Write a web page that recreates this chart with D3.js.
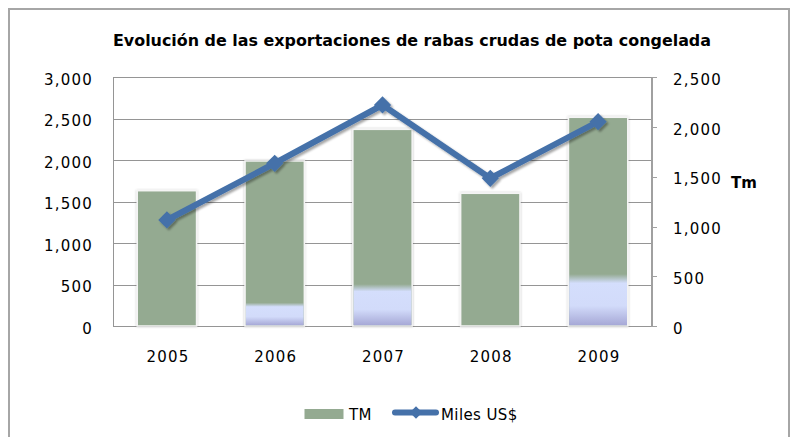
<!DOCTYPE html>
<html><head><meta charset="utf-8">
<script src="https://cdn.jsdelivr.net/npm/d3@7/dist/d3.min.js"></script>
<style>
html,body{margin:0;padding:0;background:#fff;}
svg{display:block;}
text{font-family:"DejaVu Sans",sans-serif;fill:#000;}
</style></head><body>
<svg id="c" width="798" height="437"></svg>
<script>
const years = ["2005","2006","2007","2008","2009"];
const tm = [1360, 1659, 1977, 1334, 2098];          // bars, right axis (Tm)
const milesUS = [1279, 1963, 2666, 1782, 2465];     // line, left axis
const tmLightBase = [0, 194, 381, 0, 482];          // light-blue bottom shading of bars
const leftTicks = [0, 500, 1000, 1500, 2000, 2500, 3000];
const rightTicks = [0, 500, 1000, 1500, 2000, 2500];
const title = "Evolución de las exportaciones de rabas crudas de pota congelada";

const svg = d3.select("#c");
const L = 113, R = 652, T = 77.3, B = 326;

// frame
svg.append("rect").attr("x",9).attr("y",9).attr("width",780).attr("height",450)
  .attr("fill","#fff").attr("stroke","#a6a6a6").attr("stroke-width",2);

const x = d3.scaleBand().domain(years).range([L,R]).paddingInner(0.45).paddingOuter(0.225);
const yL = d3.scaleLinear().domain([0,3000]).range([B,T]);
const yR = d3.scaleLinear().domain([0,2500]).range([B,T]);

// defs
const defs = svg.append("defs");
const g1 = defs.append("linearGradient").attr("id","lb").attr("x1",0).attr("y1",0).attr("x2",0).attr("y2",1);
g1.append("stop").attr("offset","0").attr("stop-color","#d4defc").attr("stop-opacity",0);
g1.append("stop").attr("offset","0.18").attr("stop-color","#d4defc").attr("stop-opacity",1);
g1.append("stop").attr("offset","0.62").attr("stop-color","#d2dbfa").attr("stop-opacity",1);
g1.append("stop").attr("offset","1").attr("stop-color","#a6a8d6").attr("stop-opacity",1);
const f = defs.append("filter").attr("id","sh").attr("x","-50%").attr("y","-50%").attr("width","200%").attr("height","200%");
f.append("feDropShadow").attr("dx",2).attr("dy",2).attr("stdDeviation",1.2).attr("flood-color","#000").attr("flood-opacity",0.35);
const fb = defs.append("filter").attr("id","bs").attr("x","-20%").attr("y","-20%").attr("width","140%").attr("height","140%");
fb.append("feDropShadow").attr("dx",0).attr("dy",0).attr("stdDeviation",1).attr("flood-color","#000").attr("flood-opacity",0.25);

// gridlines
svg.append("g").selectAll("line").data(leftTicks).join("line")
  .attr("x1",L).attr("x2",R).attr("y1",d=>Math.round(yL(d))+0.5).attr("y2",d=>Math.round(yL(d))+0.5)
  .attr("stroke","#959595").attr("stroke-width",1);
// left axis line
svg.append("line").attr("x1",L+0.5).attr("x2",L+0.5).attr("y1",T).attr("y2",B)
  .attr("stroke","#959595").attr("stroke-width",1);

// bars
const bars = svg.append("g");
bars.selectAll("rect.b").data(years).join("rect").attr("class","b")
  .attr("x",d=>x(d)).attr("width",x.bandwidth())
  .attr("y",(d,i)=>yR(tm[i])).attr("height",(d,i)=>B-yR(tm[i]))
  .attr("fill","#94aa91").attr("stroke","#f4f4f4").attr("stroke-width",1.5).attr("filter","url(#bs)");
bars.selectAll("rect.l").data(years.filter((d,i)=>tmLightBase[i]>0)).join("rect").attr("class","l")
  .attr("x",d=>x(d)+0.75).attr("width",x.bandwidth()-1.5)
  .attr("y",d=>yR(tmLightBase[years.indexOf(d)])-4)
  .attr("height",d=>B-yR(tmLightBase[years.indexOf(d)])+4-0.75)
  .attr("fill","url(#lb)");

// right axis
svg.append("line").attr("x1",R).attr("x2",R).attr("y1",T).attr("y2",B+1)
  .attr("stroke","#a0a0a0").attr("stroke-width",2);
svg.append("g").selectAll("line").data(rightTicks).join("line")
  .attr("x1",R).attr("x2",R+5).attr("y1",d=>Math.round(yR(d))+0.5).attr("y2",d=>Math.round(yR(d))+0.5)
  .attr("stroke","#a0a0a0").attr("stroke-width",1);

// line
const line = d3.line().x((d,i)=>x(years[i])+x.bandwidth()/2).y(d=>yL(d));
const lg = svg.append("g").attr("filter","url(#sh)");
lg.append("path").datum(milesUS).attr("d",line).attr("fill","none")
  .attr("stroke","#4571a9").attr("stroke-width",6).attr("stroke-linejoin","round");
const diamond = d3.symbol().type(d3.symbolDiamond2).size(190);
lg.selectAll("path.m").data(milesUS).join("path").attr("class","m")
  .attr("transform",(d,i)=>`translate(${x(years[i])+x.bandwidth()/2},${yL(d)})`)
  .attr("d",diamond).attr("fill","#4571a9");

// tick labels
svg.append("g").selectAll("text").data(leftTicks).join("text")
  .attr("x",93).attr("y",d=>yL(d)+7.5).attr("text-anchor","end")
  .style("font-size","15px").style("letter-spacing","1.2px")
  .text(d=>d3.format(",")(d));
svg.append("g").selectAll("text").data(rightTicks).join("text")
  .attr("x",673).attr("y",d=>yR(d)+7.5).attr("text-anchor","start")
  .style("font-size","15px").style("letter-spacing","1.2px")
  .text(d=>d3.format(",")(d));
svg.append("g").selectAll("text").data(years).join("text")
  .attr("x",d=>x(d)+x.bandwidth()/2+1).attr("y",362).attr("text-anchor","middle")
  .style("font-size","15px").style("letter-spacing","1.2px")
  .text(d=>d);

// axis title
svg.append("text").attr("x",731).attr("y",188).style("font-size","15px").style("font-weight","bold").text("Tm");

// title
svg.append("text").attr("x",113).attr("y",46).style("font-size","15px").style("font-weight","bold")
  .attr("textLength",598).attr("lengthAdjust","spacingAndGlyphs").text(title);

// legend
svg.append("rect").attr("x",304.5).attr("y",409).attr("width",39).attr("height",10).attr("fill","#94aa91");
svg.append("text").attr("x",349).attr("y",419.5).style("font-size","15px").style("letter-spacing","0.3px").text("TM");
svg.append("line").attr("x1",395).attr("x2",436).attr("y1",412.5).attr("y2",412.5)
  .attr("stroke","#4571a9").attr("stroke-width",6).attr("stroke-linecap","round");
svg.append("path").attr("transform","translate(416,412.5)").attr("d",d3.symbol().type(d3.symbolDiamond2).size(100)).attr("fill","#4571a9");
svg.append("text").attr("x",441).attr("y",419.5).style("font-size","15px").style("letter-spacing","0.4px").text("Miles US$");
</script>
</body></html>
